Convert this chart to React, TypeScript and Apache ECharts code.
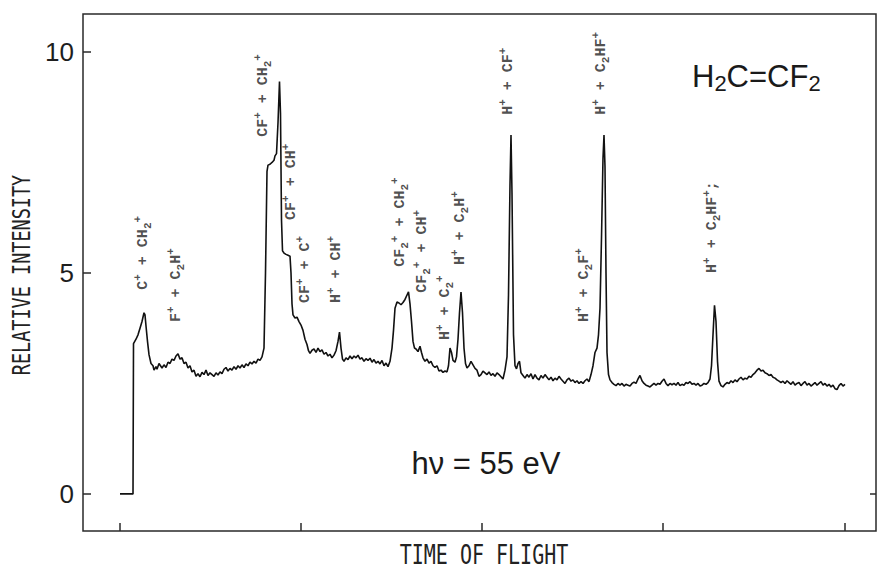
import React, { useEffect, useRef } from "react";
import * as echarts from "echarts";

// Time-of-flight channel (arbitrary units) and relative intensity of the trace
const tof = [
  0, 11, 13, 13.5, 16, 18, 20, 22, 24, 25, 26, 27.5, 29, 31, 33, 34, 36, 37, 39, 40.5,
  42, 44, 46, 48, 50, 52, 54, 56, 58, 60, 62, 64, 66, 68, 70, 72, 74, 76, 78, 80,
  82, 84, 86, 88, 90, 92, 94, 96, 98, 100, 102, 104, 106, 108, 110, 112, 114, 116, 118, 120,
  122, 124, 126, 128, 130, 132, 134, 136, 138, 140, 142, 144, 145.5, 147, 148, 150, 152, 154, 155, 156.5,
  158, 159.5, 160.5, 161.5, 162.5, 164, 166, 168, 170, 171, 172, 173, 175, 177, 179, 181, 183, 185, 187, 188.5,
  190, 192, 194, 196, 198, 200, 202, 204, 206, 208, 210, 212, 214, 216, 218, 219.5, 221, 222.5, 224, 226,
  228, 230, 232, 234, 236, 238, 240, 242, 244, 246, 248, 250, 252, 254, 256, 258, 260, 262, 264, 266,
  268, 270, 272, 273.5, 275, 277, 279, 281, 283, 285, 287, 288.5, 290, 291.5, 293, 294.5, 296, 298, 300, 301.5,
  303, 305, 307, 309, 311, 313, 315, 317, 319, 321, 323, 325, 327, 328.5, 330, 331.5, 333, 335, 336.5, 338,
  339.5, 341, 342.5, 344, 345.5, 347, 349, 351, 353, 355, 357, 359, 361, 363, 365, 367, 369, 371, 373, 375,
  377, 379, 381, 383, 385, 387, 388.5, 390, 391, 392, 393.5, 395, 396.5, 398, 399.5, 401, 403, 405, 407, 409,
  411, 413, 415, 417, 419, 421, 423, 425, 427, 429, 431, 433, 435, 437, 439, 441, 443, 445, 447, 449,
  451, 453, 455, 457, 459, 461, 463, 465, 467, 469, 471, 473, 475, 477, 478.5, 480, 481.5, 483, 484, 485,
  486, 487, 488.5, 490, 492, 494, 496, 498, 500, 502, 504, 506, 508, 510, 512, 514, 516, 518, 520, 522,
  524, 526, 528, 530, 532, 534, 536, 538, 540, 542, 544, 546, 548, 550, 552, 554, 556, 558, 560, 562,
  564, 566, 568, 570, 572, 574, 576, 578, 580, 582, 584, 586, 588, 590, 591.5, 593, 594.5, 596, 597.5, 599,
  601, 603, 605, 607, 609, 611, 613, 615, 617, 619, 621, 623, 625, 627, 629, 631, 633, 635, 637, 639,
  641, 643, 645, 647, 649, 651, 653, 655, 657, 659, 661, 663, 665, 667, 669, 671, 673, 675, 677, 679,
  681, 683, 685, 687, 689, 691, 693, 695, 697, 699, 701, 703, 705, 707, 709, 711, 713, 715, 717, 719,
  721, 723, 725,
];

const intensity = [
  0, 0, 0, 3.4, 3.5, 3.6, 3.75, 3.9, 4.1, 4.05, 3.8, 3.45, 3.15, 2.95, 2.9, 2.8, 2.88, 2.82, 2.95, 2.9,
  2.85, 2.92, 2.86, 2.98, 2.95, 3.05, 3.02, 3.12, 3.17, 3.05, 3.08, 2.95, 2.98, 2.85, 2.9, 2.76, 2.8, 2.66, 2.72, 2.65,
  2.75, 2.7, 2.8, 2.68, 2.74, 2.7, 2.66, 2.74, 2.69, 2.76, 2.72, 2.82, 2.86, 2.78, 2.84, 2.8, 2.88, 2.82, 2.9, 2.85,
  2.92, 2.86, 2.94, 2.9, 2.98, 2.94, 3.0, 2.96, 3.05, 3.02, 3.1, 3.3, 5.0, 7.3, 7.44, 7.46, 7.5, 7.55, 7.65, 7.7,
  8.4, 9.33, 8.6, 6.2, 5.5, 5.45, 5.42, 5.4, 5.38, 5.0, 4.3, 4.05, 3.98, 4.0, 3.9, 3.82, 3.7, 3.5, 3.38, 3.24,
  3.18, 3.25, 3.28, 3.2, 3.3, 3.22, 3.26, 3.16, 3.2, 3.12, 3.16, 3.08, 3.14, 3.24, 3.45, 3.66, 3.3, 3.05, 3.0, 3.08,
  3.04, 3.12, 3.06, 3.12, 3.08, 3.14, 3.05, 3.08, 3.0, 3.06, 3.02, 3.07, 2.98, 3.04, 2.96, 3.0, 2.94, 3.02, 2.9, 2.96,
  2.88, 3.0, 3.3, 3.7, 4.2, 4.34, 4.32, 4.28, 4.33, 4.4, 4.5, 4.57, 4.3, 3.9, 3.45, 3.3, 3.28, 3.22, 3.34, 3.2,
  3.08, 3.0, 3.05, 2.96, 3.0, 2.9, 2.86, 2.9, 2.78, 2.8, 2.75, 2.78, 2.76, 2.9, 3.3, 3.2, 3.02, 2.98, 3.1, 3.5,
  4.1, 4.57, 4.1, 3.3, 2.95, 2.85, 2.9, 3.0, 2.92, 2.84, 2.8, 2.66, 2.7, 2.78, 2.74, 2.7, 2.76, 2.68, 2.72, 2.66,
  2.74, 2.7, 2.65, 2.6, 2.8, 3.1, 4.5, 7.0, 8.12, 6.8, 3.6, 2.9, 2.83, 2.95, 3.0, 2.74, 2.68, 2.62, 2.7, 2.64,
  2.72, 2.6, 2.7, 2.62, 2.58, 2.68, 2.62, 2.7, 2.64, 2.58, 2.64, 2.56, 2.62, 2.58, 2.66, 2.6, 2.55, 2.5, 2.58, 2.62,
  2.55, 2.58, 2.52, 2.56, 2.5, 2.54, 2.5, 2.56, 2.6, 2.54, 2.7, 2.9, 3.2, 3.3, 3.6, 4.2, 5.8, 7.6, 8.12, 7.4,
  5.0, 3.2, 2.7, 2.58, 2.52, 2.48, 2.45, 2.5, 2.46, 2.5, 2.44, 2.48, 2.46, 2.44, 2.5, 2.53, 2.5, 2.6, 2.68, 2.56,
  2.5, 2.46, 2.44, 2.42, 2.46, 2.5, 2.46, 2.5, 2.48, 2.55, 2.6, 2.5, 2.45, 2.5, 2.47, 2.5, 2.46, 2.52, 2.45, 2.48,
  2.46, 2.52, 2.5, 2.54, 2.48, 2.5, 2.46, 2.5, 2.44, 2.46, 2.5, 2.48, 2.52, 2.6, 2.9, 3.6, 4.27, 3.9, 3.0, 2.55,
  2.45, 2.42, 2.48, 2.52, 2.5, 2.56, 2.52, 2.58, 2.54, 2.6, 2.64, 2.58, 2.62, 2.6, 2.66, 2.64, 2.7, 2.74, 2.8, 2.84,
  2.78, 2.8, 2.74, 2.72, 2.68, 2.7, 2.64, 2.62, 2.58, 2.55, 2.52, 2.55, 2.5, 2.56, 2.52, 2.48, 2.54, 2.46, 2.5, 2.52,
  2.45, 2.5, 2.54, 2.46, 2.5, 2.44, 2.48, 2.52, 2.46, 2.5, 2.54, 2.46, 2.5, 2.44, 2.48, 2.42, 2.46, 2.38, 2.36, 2.45,
  2.5, 2.44, 2.48,
];

// Fragment-pair assignments written along the trace (rich text: sup / sub)
const peakLabels = [
  "C{sup|+} + CH{sub|2}{sup|+}",
  "F{sup|+} + C{sub|2}H{sup|+}",
  "CF{sup|+} + CH{sub|2}{sup|+}",
  "CF{sup|+} + CH{sup|+}",
  "CF{sup|+} + C{sup|+}",
  "H{sup|+} + CH{sup|+}",
  "CF{sub|2}{sup|+} + CH{sub|2}{sup|+}",
  "CF{sub|2}{sup|+} + CH{sup|+}",
  "H{sup|+} + C{sub|2}{sup|+}",
  "H{sup|+} + C{sub|2}H{sup|+}",
  "H{sup|+} + CF{sup|+}",
  "H{sup|+} + C{sub|2}HF{sup|+}",
  "H{sup|+} + C{sub|2}F{sup|+}",
  "H{sup|+} + C{sub|2}HF{sup|+};",
];
const peakLabelTof = [23, 56, 143, 171, 185, 216, 280, 302, 325, 340, 388, 481, 464, 592];
const peakLabelY = [4.62, 3.89, 8.08, 6.2, 4.32, 4.32, 5.14, 4.55, 3.48, 5.18, 8.58, 8.58, 3.89, 5.0];

const yTicks = [0, 5, 10];
const xTicks = [0, 181, 362, 543, 725];

const frameColor = "#2a2a2a";
const plotterFont = '"DejaVu Sans Mono", monospace';
const labelFont = '"Liberation Mono", "DejaVu Sans Mono", monospace';
const sansFont = '"Liberation Sans", Arial, sans-serif';

export default function App() {
  const ref = useRef<HTMLDivElement>(null);

  useEffect(() => {
    if (!ref.current) return;
    const chart = echarts.init(ref.current, null, { renderer: "svg" });

    const trace = tof.map((t, i) => [t, intensity[i]]);
    const labelData = peakLabelTof.map((t, i) => ({
      value: [t, peakLabelY[i]],
      label: { formatter: peakLabels[i] },
    }));

    const tickLine = { color: frameColor, width: 1.5 };

    chart.setOption({
      animation: false,
      backgroundColor: "#ffffff",
      grid: {
        left: 83,
        right: 1,
        top: 14,
        bottom: 41,
        show: true,
        borderColor: frameColor,
        borderWidth: 1.5,
        backgroundColor: "transparent",
      },
      xAxis: {
        type: "value",
        min: -37,
        max: 756,
        position: "bottom",
        axisLine: { show: false, onZero: false },
        axisTick: { show: true, inside: true, length: 8, customValues: xTicks, lineStyle: tickLine },
        axisLabel: { show: false },
        splitLine: { show: false },
      },
      yAxis: [
        {
          type: "value",
          min: -0.84,
          max: 10.86,
          position: "left",
          axisLine: { show: false, onZero: false },
          axisTick: { show: true, inside: true, length: 8, customValues: yTicks, lineStyle: tickLine },
          axisLabel: {
            show: true,
            customValues: yTicks,
            fontSize: 26,
            fontFamily: sansFont,
            color: "#1e1e1e",
            margin: 9,
          },
          splitLine: { show: false },
        },
        {
          type: "value",
          min: -0.84,
          max: 10.86,
          position: "right",
          axisLine: { show: false, onZero: false },
          axisTick: { show: true, inside: true, length: 6, customValues: [0], lineStyle: tickLine },
          axisLabel: { show: false },
          splitLine: { show: false },
        },
      ],
      series: [
        {
          type: "line",
          data: trace,
          symbol: "none",
          lineStyle: { color: "#111111", width: 1.6 },
          z: 3,
        },
        {
          type: "scatter",
          data: labelData,
          symbolSize: 0,
          silent: true,
          z: 4,
          label: {
            show: true,
            position: [0, 0],
            rotate: 90,
            align: "left",
            verticalAlign: "middle",
            fontFamily: labelFont,
            fontWeight: "bold",
            fontSize: 15,
            lineHeight: 21,
            color: "#222",
            rich: {
              sup: {
                fontFamily: labelFont,
                fontWeight: "bold",
                fontSize: 11,
                lineHeight: 11,
                verticalAlign: "top",
                color: "#222",
              },
              sub: {
                fontFamily: labelFont,
                fontWeight: "bold",
                fontSize: 11,
                lineHeight: 11,
                verticalAlign: "bottom",
                color: "#222",
              },
            },
          },
        },
      ],
      graphic: [
        {
          type: "text",
          x: 22,
          y: 275,
          rotation: Math.PI / 2,
          scaleY: 1.3,
          style: {
            text: "RELATIVE INTENSITY",
            font: `18.5px ${plotterFont}`,
            fill: "#222",
            align: "center",
            verticalAlign: "middle",
          },
        },
        {
          type: "text",
          x: 484,
          y: 554,
          scaleY: 1.3,
          style: {
            text: "TIME OF FLIGHT",
            font: `20px ${plotterFont}`,
            fill: "#222",
            align: "center",
            verticalAlign: "middle",
          },
        },
        {
          type: "text",
          x: 692,
          y: 76,
          style: {
            text: "H{s|2}C=CF{s|2}",
            font: `31px ${sansFont}`,
            fill: "#1a1a1a",
            align: "left",
            verticalAlign: "middle",
            lineHeight: 36,
            rich: {
              s: {
                font: `22px ${sansFont}`,
                fill: "#1a1a1a",
                verticalAlign: "bottom",
                lineHeight: 22,
              },
            },
          },
        },
        {
          type: "text",
          x: 486,
          y: 463,
          style: {
            text: "hν = 55 eV",
            font: `31px ${sansFont}`,
            fill: "#1a1a1a",
            align: "center",
            verticalAlign: "middle",
          },
        },
      ],
    });

    return () => chart.dispose();
  }, []);

  return (
    <div
      ref={ref}
      style={{ position: "fixed", left: 0, top: 0, width: 877, height: 572, background: "#fff" }}
    />
  );
}
